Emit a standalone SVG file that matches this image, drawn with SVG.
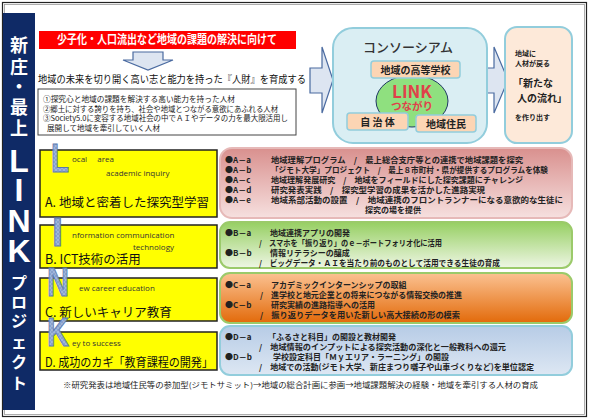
<svg xmlns="http://www.w3.org/2000/svg" width="590" height="420" viewBox="0 0 590 420">
<style>
text{font-family:"Noto Sans CJK JP","Liberation Sans",sans-serif;}
.vt{fill:#fff;font-size:18px;font-weight:bold;text-anchor:middle;}
.vk{fill:#fff;font-size:16px;font-weight:bold;text-anchor:middle;}
.vl{fill:#fff;font-family:"Liberation Sans",sans-serif;font-size:32px;font-weight:bold;text-anchor:middle;}
.ybox{fill:#ffff00;stroke:#222;stroke-width:1.5;}
.big{font-family:"Liberation Sans",sans-serif;font-weight:bold;font-size:40px;fill:url(#hatch);stroke:#5a78ad;stroke-width:1;}
.sub{font-family:"Open Sans","Liberation Sans",sans-serif;font-size:8px;fill:#333;}
.ttl{font-size:12.5px;fill:#111;}
.ln{font-size:8px;font-weight:bold;fill:#222;}
.pb{fill:#fcd5b4;stroke:#92cddc;stroke-width:1.5;}
.pbt{font-size:10px;font-weight:bold;fill:#222;text-anchor:middle;}
.arr{fill:#dde5f1;stroke:#4a6aa0;stroke-width:1.2;}
.wl{font-size:7.5px;fill:#222;}
</style>
<defs>
<pattern id="hatch" width="4" height="4" patternUnits="userSpaceOnUse">
<rect width="4" height="4" fill="#9fb5dc"/>
<path d="M0,4 L4,0 M0,0 L4,4" stroke="#7b93c3" stroke-width="0.6"/>
</pattern>
<linearGradient id="gA" x1="0" y1="0" x2="0" y2="1"><stop offset="0" stop-color="#d9908e"/><stop offset="1" stop-color="#f6e0df"/></linearGradient>
<linearGradient id="gB" x1="0" y1="0" x2="0" y2="1"><stop offset="0" stop-color="#96cf62"/><stop offset="1" stop-color="#eef6e4"/></linearGradient>
<linearGradient id="gC" x1="0" y1="0" x2="0" y2="1"><stop offset="0" stop-color="#fbc292"/><stop offset="1" stop-color="#e26a0a"/></linearGradient>
<linearGradient id="gD" x1="0" y1="0" x2="0" y2="1"><stop offset="0" stop-color="#b7cce6"/><stop offset="1" stop-color="#dde7f3"/></linearGradient>
</defs>

<rect x="0" y="0" width="590" height="420" fill="#fff"/>
<rect x="2.5" y="2.5" width="584" height="414" fill="none" stroke="#222" stroke-width="1.2"/>
<rect x="4.5" y="4.5" width="580" height="410" fill="none" stroke="#999" stroke-width="0.8"/>

<g id="title-bar">
<rect x="3" y="13" width="32" height="397" fill="#0f2a66"/>
<text class="vt" x="19" y="52">新</text>
<text class="vt" x="19" y="74">庄</text>
<text class="vt" x="19" y="93">・</text>
<text class="vt" x="19" y="114">最</text>
<text class="vt" x="19" y="135">上</text>
<text class="vl" x="19" y="172">L</text>
<text class="vl" x="19" y="201">I</text>
<text class="vl" x="19" y="232">N</text>
<text class="vl" x="19" y="262">K</text>
<text class="vk" x="19" y="289">プ</text>
<text class="vk" x="19" y="308">ロ</text>
<text class="vk" x="19" y="327">ジ</text>
<text class="vk" x="19" y="348" font-size="14">ェ</text>
<text class="vk" x="19" y="368">ク</text>
<text class="vk" x="19" y="389">ト</text>
</g>

<g id="banner">
<rect x="39" y="31" width="257" height="18" fill="#ff0000"/>
<text x="167" y="44" fill="#fff" font-size="12" font-weight="bold" text-anchor="middle" textLength="220" lengthAdjust="spacingAndGlyphs">少子化・人口流出など地域の課題の解決に向けて</text>
</g>

<g id="connectors">
<path class="arr" d="M133,52 L163,52 L163,60 L173,60 L148,70 L123,60 L133,60 Z"/>
<path class="arr" d="M310,68 L322,68 L322,47 L333,80 L322,113 L322,93 L310,93 Z"/>
<path class="arr" d="M482,68 L494,68 L494,47 L508,80 L494,113 L494,93 L482,93 Z"/>
</g>

<g id="goal">
<text x="38" y="83" font-size="10" fill="#111" textLength="268" lengthAdjust="spacingAndGlyphs">地域の未来を切り開く高い志と能力を持った『人財』を育成する</text>
</g>

<g id="goal-list">
<rect x="38" y="89" width="258" height="46" fill="#fff" stroke="#444" stroke-width="1"/>
<text class="wl" x="43" y="102" textLength="192" lengthAdjust="spacingAndGlyphs">①探究心と地域の課題を解決する高い能力を持った人材</text>
<text class="wl" x="43" y="111.5" textLength="235" lengthAdjust="spacingAndGlyphs">②郷土に対する誇りを持ち、社会や地域とつながる意欲にあふれる人材</text>
<text class="wl" x="43" y="121" textLength="245" lengthAdjust="spacingAndGlyphs">③Society5.0に変容する地域社会の中でＡＩやデータの力を最大限活用し</text>
<text class="wl" x="47" y="130.5" textLength="113" lengthAdjust="spacingAndGlyphs">展開して地域を牽引していく人材</text>
</g>

<g id="consortium">
<rect x="333" y="28" width="154" height="115" rx="20" fill="#daeef3" stroke="#92cddc" stroke-width="2"/>
<text x="408" y="52" font-size="13" font-weight="500" fill="#333" text-anchor="middle">コンソーシアム</text>
<ellipse cx="412" cy="101" rx="36" ry="26" fill="#8fe07f" stroke="#1f3864" stroke-width="1"/>
<text x="412" y="98" font-family="Liberation Sans,sans-serif" font-size="17" font-weight="bold" fill="#e0404a" text-anchor="middle">LINK</text>
<text x="412" y="110" font-size="10.5" font-weight="bold" fill="#e0404a" text-anchor="middle">つながり</text>
</g>
<g id="node-school">
<rect class="pb" x="371" y="61" width="89" height="17" rx="3"/>
<text class="pbt" x="415.5" y="73.5">地域の高等学校</text>
</g>
<g id="node-municipality">
<rect class="pb" x="347" y="113" width="61" height="17" rx="3"/>
<text class="pbt" x="377.5" y="125.5">自 治 体</text>
</g>
<g id="node-residents">
<rect class="pb" x="416" y="115" width="60" height="17" rx="3"/>
<text class="pbt" x="446" y="127.5">地域住民</text>
</g>

<g id="outcome">
<rect x="505" y="27" width="67" height="116" rx="12" fill="#fde9d9" stroke="#92cddc" stroke-width="2"/>
<text x="515" y="56" font-size="7" font-weight="bold" fill="#222">地域に</text>
<text x="515" y="66" font-size="7" font-weight="bold" fill="#222">人材が戻る</text>
<text x="513" y="87" font-size="10" font-weight="bold" fill="#222">「新たな</text>
<text x="517" y="102" font-size="10" font-weight="bold" fill="#222">人の流れ」</text>
<text x="515" y="120" font-size="7" font-weight="bold" fill="#222">を作り出す</text>
</g>

<g id="section-A">
<rect class="ybox" x="40" y="150" width="177" height="67"/>
<text class="big" x="51" y="172" textLength="18" lengthAdjust="spacingAndGlyphs">L</text>
<text class="sub" x="72" y="162">ocal　 area</text>
<text class="sub" x="106" y="176">academic inquiry</text>
<text class="ttl" x="45" y="207">A. 地域と密着した探究型学習</text>
</g>
<g id="list-A">
<rect x="220" y="148" width="352" height="70" rx="12" fill="url(#gA)" stroke="#e6b9b8" stroke-width="2"/>
<text class="ln" x="225" y="163">●A－a</text><text class="ln" x="271" y="163" textLength="252" lengthAdjust="spacingAndGlyphs">地域理解プログラム　/　最上総合支庁等との連携で地域課題を探究</text>
<text class="ln" x="225" y="173">●A－b</text><text class="ln" x="271" y="173" textLength="277" lengthAdjust="spacingAndGlyphs">「ジモト大学」プロジェクト　/　最上８市町村・県が提供するプログラムを体験</text>
<text class="ln" x="225" y="183">●A－c</text><text class="ln" x="271" y="183" textLength="252" lengthAdjust="spacingAndGlyphs">地域理解発展研究　/　地域をフィールドにした探究課題にチャレンジ</text>
<text class="ln" x="225" y="193">●A－d</text><text class="ln" x="271" y="193" textLength="214" lengthAdjust="spacingAndGlyphs">研究発表実践　/　探究型学習の成果を活かした進路実現</text>
<text class="ln" x="225" y="203">●A－e</text><text class="ln" x="271" y="203" textLength="292" lengthAdjust="spacingAndGlyphs">地域系部活動の設置　/　地域連携のフロントランナーになる意欲的な生徒に</text>
<text class="ln" x="365" y="213">探究の場を提供</text>
</g>

<g id="section-B">
<rect class="ybox" x="40" y="225" width="177" height="43"/>
<text class="big" x="52" y="246" textLength="11" lengthAdjust="spacingAndGlyphs">I</text>
<text class="sub" x="72" y="238">nformation communication</text>
<text class="sub" x="133" y="250">technology</text>
<text class="ttl" x="45" y="264">B. ICT技術の活用</text>
</g>
<g id="list-B">
<rect x="220" y="222" width="352" height="46" rx="10" fill="url(#gB)" stroke="#9bca6a" stroke-width="2"/>
<text class="ln" x="225" y="236">●B－a</text><text class="ln" x="270" y="236">地域連携アプリの開発</text>
<text class="ln" x="259" y="246" textLength="183" lengthAdjust="spacingAndGlyphs">/　スマホを「振り返り」のｅ－ポートフォリオ化に活用</text>
<text class="ln" x="225" y="256">●B－b</text><text class="ln" x="270" y="256">情報リテラシーの醸成</text>
<text class="ln" x="259" y="266" textLength="241" lengthAdjust="spacingAndGlyphs">/　ビッグデータ・ＡＩを当たり前のものとして活用できる生徒の育成</text>
</g>

<g id="section-C">
<rect class="ybox" x="40" y="278" width="177" height="43"/>
<text class="big" x="47" y="296" textLength="22" lengthAdjust="spacingAndGlyphs">N</text>
<text class="sub" x="79" y="291">ew career education</text>
<text class="ttl" x="45" y="317">C. 新しいキャリア教育</text>
</g>
<g id="list-C">
<rect x="220" y="273" width="352" height="50" rx="10" fill="url(#gC)" stroke="#9bca6a" stroke-width="2"/>
<text class="ln" x="225" y="288">●C－a</text><text class="ln" x="271" y="288">アカデミックインターンシップの取組</text>
<text class="ln" x="260" y="298" textLength="202" lengthAdjust="spacingAndGlyphs">/　進学校と地元企業との将来につながる情報交換の推進</text>
<text class="ln" x="225" y="308">●C－b</text><text class="ln" x="271" y="308">研究実績の進路指導への活用</text>
<text class="ln" x="260" y="318" textLength="200" lengthAdjust="spacingAndGlyphs">/　振り返りデータを用いた新しい高大接続の形の模索</text>
</g>

<g id="section-D">
<rect class="ybox" x="40" y="332" width="177" height="38"/>
<text class="big" x="47" y="346" font-size="34" textLength="22" lengthAdjust="spacingAndGlyphs">K</text>
<text class="sub" x="72" y="346">ey to success</text>
<text class="ttl" x="45" y="367" textLength="168" lengthAdjust="spacingAndGlyphs">D. 成功のカギ「教育課程の開発」</text>
</g>
<g id="list-D">
<rect x="220" y="326" width="352" height="49" rx="10" fill="url(#gD)" stroke="#92cddc" stroke-width="2"/>
<text class="ln" x="225" y="340">●D－a</text><text class="ln" x="268" y="340">「ふるさと科目」の開設と教材開発</text>
<text class="ln" x="259" y="350" textLength="247" lengthAdjust="spacingAndGlyphs">/　地域情報のインプットによる探究活動の深化と一般教科への還元</text>
<text class="ln" x="225" y="360">●D－b</text><text class="ln" x="273" y="360">学校設定科目「Ｍｙエリア・ラーニング」の開設</text>
<text class="ln" x="259" y="370" textLength="275" lengthAdjust="spacingAndGlyphs">/　地域での活動(ジモト大学、新庄まつり囃子や山車づくりなど)を単位認定</text>
</g>

<g id="footnote">
<text x="63" y="388" font-size="7.5" fill="#222" textLength="475" lengthAdjust="spacingAndGlyphs">※研究発表は地域住民等の参加型(ジモトサミット)→地域の総合計画に参画→地域課題解決の経験・地域を牽引する人材の育成</text>
</g>
</svg>
